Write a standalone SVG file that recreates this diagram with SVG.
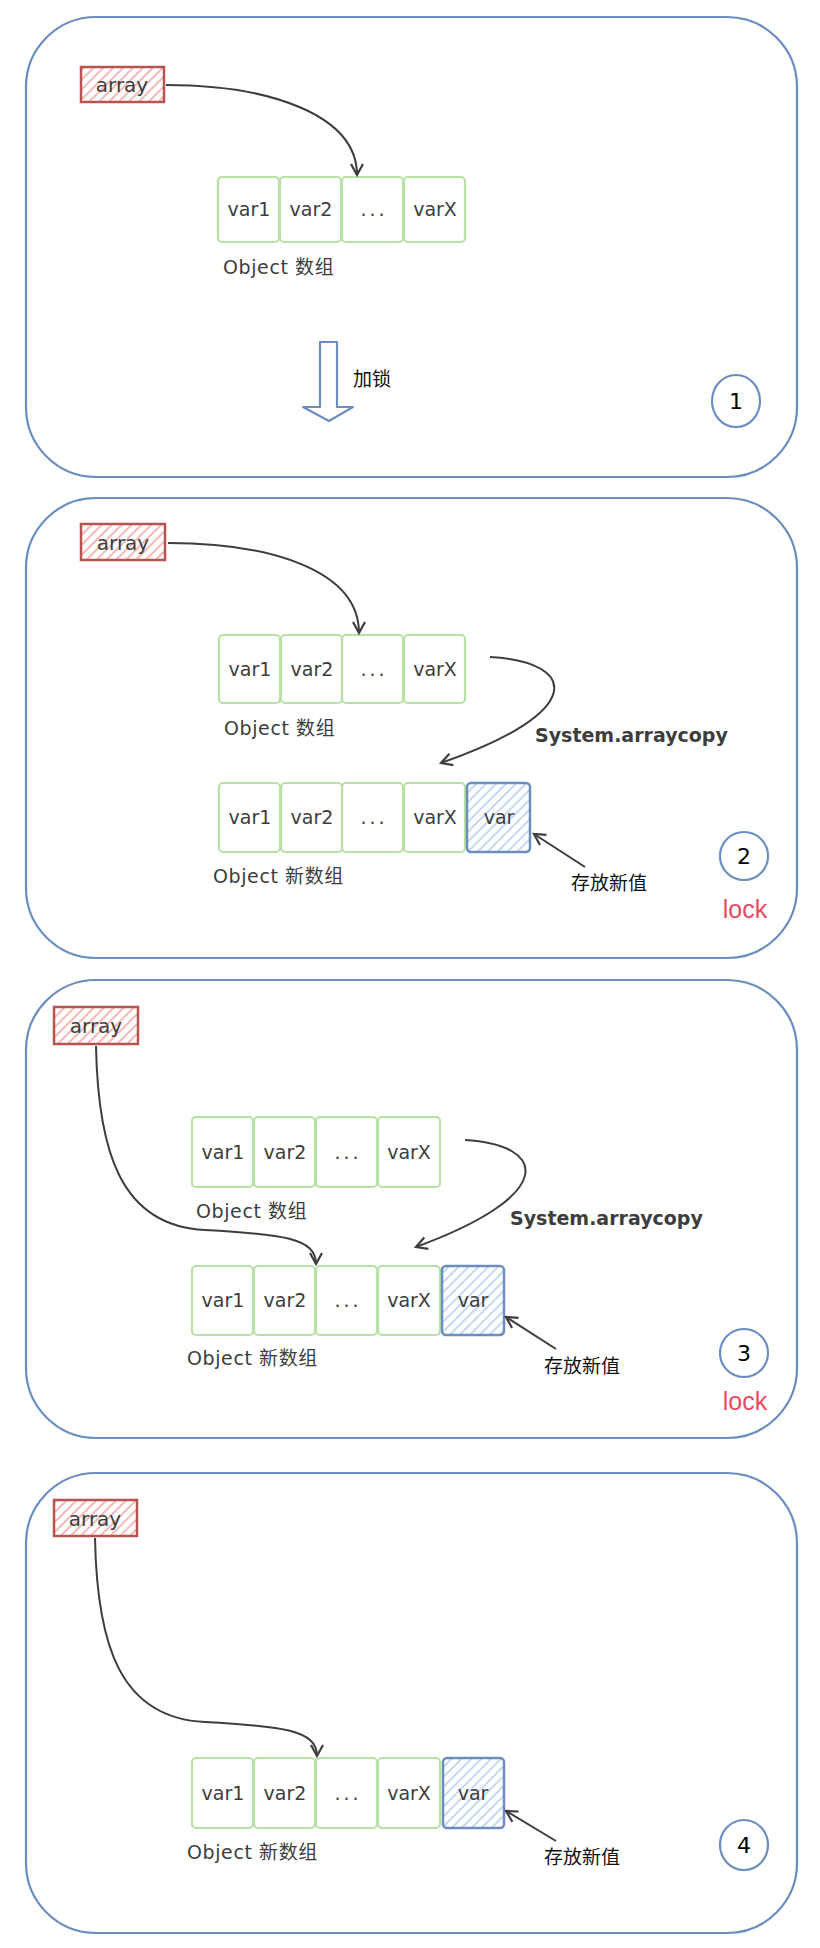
<svg xmlns="http://www.w3.org/2000/svg" width="820" height="1948" viewBox="0 0 820 1948">
<defs>
<style>
.panel{fill:none;stroke:#6c8ebf;stroke-width:2.2}
.cell{fill:none;stroke:#b9e0a5;stroke-width:2.2}
.newcell{fill:url(#hatchBlue);stroke:#6c8ebf;stroke-width:2.5}
.arr{fill:url(#hatchRed);stroke:#b85450;stroke-width:2.5}
.ring{fill:none;stroke:#6c8ebf;stroke-width:2.2}
.lbl{font-family:"DejaVu Sans","Noto Sans CJK SC",sans-serif;font-size:19px;fill:#3d3d3d}
.cap{letter-spacing:0.6px}
.mid{text-anchor:middle}
.big{font-size:20px}
.dots{letter-spacing:3px}
.bold{font-weight:bold;font-size:19px;letter-spacing:0}
.cn{font-family:"Noto Sans CJK SC","Noto Sans CJK JP",sans-serif;font-size:19px;fill:#111}
.num{font-family:"DejaVu Sans",sans-serif;font-size:22px;fill:#000;text-anchor:middle}
.lock{font-family:"Liberation Sans",sans-serif;font-size:25px;fill:#e84a60;text-anchor:middle}
.conn{fill:none;stroke:#3d3d3d;stroke-width:2;marker-end:url(#ah)}
.block{fill:none;stroke:#6c8ebf;stroke-width:2.2;stroke-linejoin:round}
</style>
<marker id="ah" markerUnits="userSpaceOnUse" markerWidth="16" markerHeight="16" viewBox="0 0 16 16" refX="13" refY="8" orient="auto">
<path d="M2,2 L13,8 L2,14" fill="none" stroke="#3d3d3d" stroke-width="2.2"/>
</marker>
<pattern id="hatchRed" patternUnits="userSpaceOnUse" width="7" height="7" patternTransform="rotate(45)">
<rect width="7" height="7" fill="#fff"/>
<line x1="2" y1="0" x2="2" y2="7" stroke="#f5b9b7" stroke-width="2"/>
</pattern>
<pattern id="hatchBlue" patternUnits="userSpaceOnUse" width="7" height="7" patternTransform="rotate(45)">
<rect width="7" height="7" fill="#fff"/>
<line x1="2" y1="0" x2="2" y2="7" stroke="#c5d8f4" stroke-width="2"/>
</pattern>
</defs>
<rect width="820" height="1948" fill="#fff"/>

<!-- Panel 1 -->
<g id="panel1"><rect class="panel" x="26" y="17" width="771" height="460" rx="70"/></g>
<g id="p1-array"><rect class="arr" x="81" y="67" width="83" height="35"/><text class="lbl mid big" x="122" y="92">array</text></g>
<g id="p1-cells">
<rect class="cell" x="218" y="177" width="61" height="65" rx="4"/>
<rect class="cell" x="280" y="177" width="61" height="65" rx="4"/>
<rect class="cell" x="342" y="177" width="61" height="65" rx="4"/>
<rect class="cell" x="404" y="177" width="61" height="65" rx="4"/>
<text class="lbl mid" x="249" y="216">var1</text>
<text class="lbl mid" x="311" y="216">var2</text>
<text class="lbl mid dots" x="374" y="216">...</text>
<text class="lbl mid" x="435" y="216">varX</text>
</g>
<g id="p1-caption"><text class="lbl cap" x="223" y="274">Object 数组</text></g>
<g id="p1-lockarrow"><polygon class="block" points="320,342 337,342 337,407 353,407 329,421 303,407 320,407"/><text class="cn" x="353" y="386">加锁</text></g>
<g id="p1-step"><ellipse class="ring" cx="736" cy="401" rx="24" ry="26"/><text class="num" x="736" y="409">1</text></g>

<!-- Panel 2 -->
<g id="panel2"><rect class="panel" x="26" y="498" width="771" height="460" rx="70"/></g>
<g id="p2-array"><rect class="arr" x="81" y="524" width="84" height="36"/><text class="lbl mid big" x="123" y="550">array</text></g>
<g id="p2-old">
<rect class="cell" x="219" y="635" width="61" height="68" rx="4"/>
<rect class="cell" x="281" y="635" width="61" height="68" rx="4"/>
<rect class="cell" x="342" y="635" width="61" height="68" rx="4"/>
<rect class="cell" x="404" y="635" width="61" height="68" rx="4"/>
<text class="lbl mid" x="250" y="676">var1</text>
<text class="lbl mid" x="312" y="676">var2</text>
<text class="lbl mid dots" x="374" y="676">...</text>
<text class="lbl mid" x="435" y="676">varX</text>
<text class="lbl cap" x="224" y="735">Object 数组</text>
</g>
<g id="p2-new">
<rect class="cell" x="219" y="783" width="61" height="69" rx="4"/>
<rect class="cell" x="281" y="783" width="61" height="69" rx="4"/>
<rect class="cell" x="342" y="783" width="61" height="69" rx="4"/>
<rect class="cell" x="404" y="783" width="61" height="69" rx="4"/>
<rect class="newcell" x="467" y="783" width="63" height="69" rx="4"/>
<text class="lbl mid" x="250" y="824">var1</text>
<text class="lbl mid" x="312" y="824">var2</text>
<text class="lbl mid dots" x="374" y="824">...</text>
<text class="lbl mid" x="435" y="824">varX</text>
<text class="lbl mid" x="499" y="824">var</text>
<text class="lbl cap" x="213" y="883">Object 新数组</text>
</g>
<g id="p2-labels">
<text class="lbl bold" x="535" y="742">System.arraycopy</text>
<text class="cn" x="571" y="890">存放新值</text>
</g>
<g id="p2-step"><ellipse class="ring" cx="744" cy="856" rx="24" ry="24"/><text class="num" x="744" y="864">2</text><text class="lock" x="745" y="918">lock</text></g>

<!-- Panel 3 -->
<g id="panel3"><rect class="panel" x="26" y="980" width="771" height="458" rx="70"/></g>
<g id="p3-array"><rect class="arr" x="54" y="1007" width="84" height="37"/><text class="lbl mid big" x="96" y="1033">array</text></g>
<g id="p3-old">
<rect class="cell" x="192" y="1117" width="61" height="70" rx="4"/>
<rect class="cell" x="254" y="1117" width="61" height="70" rx="4"/>
<rect class="cell" x="316" y="1117" width="61" height="70" rx="4"/>
<rect class="cell" x="378" y="1117" width="62" height="70" rx="4"/>
<text class="lbl mid" x="223" y="1159">var1</text>
<text class="lbl mid" x="285" y="1159">var2</text>
<text class="lbl mid dots" x="348" y="1159">...</text>
<text class="lbl mid" x="409" y="1159">varX</text>
<text class="lbl cap" x="196" y="1218">Object 数组</text>
</g>
<g id="p3-new">
<rect class="cell" x="192" y="1266" width="61" height="69" rx="4"/>
<rect class="cell" x="254" y="1266" width="61" height="69" rx="4"/>
<rect class="cell" x="316" y="1266" width="61" height="69" rx="4"/>
<rect class="cell" x="378" y="1266" width="62" height="69" rx="4"/>
<rect class="newcell" x="442" y="1266" width="62" height="69" rx="4"/>
<text class="lbl mid" x="223" y="1307">var1</text>
<text class="lbl mid" x="285" y="1307">var2</text>
<text class="lbl mid dots" x="348" y="1307">...</text>
<text class="lbl mid" x="409" y="1307">varX</text>
<text class="lbl mid" x="473" y="1307">var</text>
<text class="lbl cap" x="187" y="1365">Object 新数组</text>
</g>
<g id="p3-labels">
<text class="lbl bold" x="510" y="1225">System.arraycopy</text>
<text class="cn" x="544" y="1373">存放新值</text>
</g>
<g id="p3-step"><ellipse class="ring" cx="744" cy="1353" rx="24" ry="24"/><text class="num" x="744" y="1361">3</text><text class="lock" x="745" y="1410">lock</text></g>

<!-- Panel 4 -->
<g id="panel4"><rect class="panel" x="26" y="1473" width="771" height="460" rx="70"/></g>
<g id="p4-array"><rect class="arr" x="54" y="1500" width="83" height="36"/><text class="lbl mid big" x="95" y="1526">array</text></g>
<g id="p4-new">
<rect class="cell" x="192" y="1758" width="61" height="70" rx="4"/>
<rect class="cell" x="254" y="1758" width="61" height="70" rx="4"/>
<rect class="cell" x="316" y="1758" width="61" height="70" rx="4"/>
<rect class="cell" x="378" y="1758" width="62" height="70" rx="4"/>
<rect class="newcell" x="443" y="1758" width="61" height="70" rx="4"/>
<text class="lbl mid" x="223" y="1800">var1</text>
<text class="lbl mid" x="285" y="1800">var2</text>
<text class="lbl mid dots" x="348" y="1800">...</text>
<text class="lbl mid" x="409" y="1800">varX</text>
<text class="lbl mid" x="473" y="1800">var</text>
<text class="lbl cap" x="187" y="1859">Object 新数组</text>
</g>
<g id="p4-labels"><text class="cn" x="544" y="1864">存放新值</text></g>
<g id="p4-step"><ellipse class="ring" cx="744" cy="1845" rx="24" ry="25"/><text class="num" x="744" y="1853">4</text></g>

<!-- Connectors -->
<g id="connectors">
<path class="conn" d="M166,85 C270,85 357,115 357,175"/>
<path class="conn" d="M168,543 C270,543 359,570 359,633"/>
<path class="conn" d="M490,657 C578,662 588,712 441,763"/>
<path class="conn" d="M585,867 L534,834"/>
<path class="conn" d="M96,1046 C98,1150 120,1226 205,1230 C282,1234 316,1238 316,1264"/>
<path class="conn" d="M465,1140 C548,1145 558,1195 416,1247"/>
<path class="conn" d="M556,1349 L506,1317"/>
<path class="conn" d="M95,1538 C97,1645 120,1718 205,1722 C282,1726 317,1730 317,1756"/>
<path class="conn" d="M556,1841 L506,1811"/>
</g>
</svg>
